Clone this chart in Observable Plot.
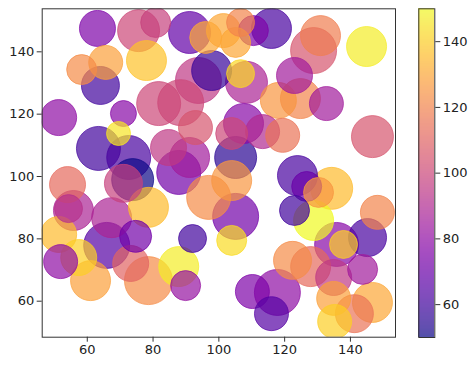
<!DOCTYPE html>
<html>
<head>
<meta charset="utf-8">
<script src="https://cdn.jsdelivr.net/npm/d3@7"></script>
<script src="https://cdn.jsdelivr.net/npm/@observablehq/plot@0.6"></script>
<style>
  html, body { margin: 0; padding: 0; background: #fff; }
  #wrap { display: flex; width: 474px; height: 368px; }
  svg text { font-family: "DejaVu Sans", sans-serif; }
</style>
</head>
<body>
<div id="wrap"></div>
<script>
// Scatter values
const xs = [69.5, 63.1, 58.3, 65.6, 64.0, 51.3, 71.0, 75.6, 80.8, 78.0, 81.7, 91.1, 101.4, 106.6, 110.5, 116.0,
  97.8, 93.8, 106.6, 108.4, 88.4, 107.5, 118.1, 130.9, 128.8, 144.9, 123.0, 124.8, 132.7, 146.7, 113.3, 119.4,
  123.9, 126.7, 134.3, 130.3, 123.0, 128.8, 148.2, 105.1, 103.9, 92.0, 87.8, 89.9, 78.6, 110.2, 117.8, 116.0,
  122.4, 127.9, 135.8, 137.9, 145.2, 134.9, 143.7, 146.7, 134.9, 141.2, 135.2, 54.0, 55.8, 54.3, 67.4, 78.6,
  51.3, 65.9, 74.7, 51.9, 57.4, 61.0, 73.2, 63.4, 72.6, 71.0, 73.8, 92.9, 84.7, 87.8, 91.1, 105.1, 103.9,
  103.9, 96.9, 96.0, 105.1];
const ys = [113.8, 147.5, 134.3, 136.6, 129.2, 118.9, 120.2, 146.8, 149.4, 137.2, 123.4, 146.2, 146.8, 149.4, 146.8, 147.5,
  134.0, 130.8, 133.0, 130.2, 123.7, 117.0, 124.4, 145.2, 140.4, 141.7, 132.4, 125.0, 123.4, 112.8, 114.4, 113.2,
  100.3, 96.8, 96.2, 94.9, 89.1, 85.9, 88.5, 87.2, 79.5, 80.1, 71.1, 65.0, 66.6, 63.1, 62.8, 56.0,
  73.1, 71.1, 78.2, 78.2, 80.4, 67.6, 70.2, 59.6, 60.9, 56.0, 53.5, 97.4, 89.1, 89.7, 86.8, 90.1,
  81.4, 77.9, 80.8, 72.7, 74.0, 66.6, 72.1, 109.0, 106.1, 97.8, 99.0, 115.7, 109.3, 101.3, 106.1, 106.1, 113.8,
  98.7, 93.3, 144.6, 143.0];
const sizes = [144, 324, 225, 289, 361, 324, 169, 441, 225, 400, 484, 441, 289, 196, 225, 400,
  400, 529, 196, 441, 529, 400, 324, 400, 529, 400, 324, 400, 289, 441, 289, 289,
  400, 225, 441, 225, 225, 400, 289, 529, 225, 196, 400, 225, 576, 289, 529, 289,
  361, 400, 484, 196, 361, 324, 225, 400, 289, 361, 289, 324, 400, 196, 400, 400,
  324, 529, 256, 289, 324, 400, 324, 484, 484, 361, 441, 289, 324, 484, 400, 441, 256,
  400, 484, 256, 225];
const values = [145, 75, 122, 128, 60, 80, 78, 100, 98, 137, 100, 68, 130, 120, 75, 62,
  58, 95, 142, 88, 100, 78, 125, 118, 105, 147, 85, 120, 85, 105, 90, 115,
  62, 70, 135, 125, 60, 150, 120, 72, 143, 60, 147, 82, 122, 75, 80, 65,
  122, 112, 78, 140, 62, 95, 85, 130, 128, 115, 140, 112, 88, 92, 88, 135,
  135, 65, 72, 80, 140, 128, 110, 60, 62, 98, 50, 105, 95, 72, 85, 55, 100,
  125, 122, 130, 130];
const xTicks = [60, 80, 100, 120, 140];
const yTicks = [60, 80, 100, 120, 140];
const cTicks = [60, 80, 100, 120, 140];

const points = xs.map((x, i) => ({x, y: ys[i], s: sizes[i], c: values[i]}));
const cDomain = d3.extent(values);

const main = Plot.plot({
  width: 405, height: 368,
  marginLeft: 41.7, marginRight: 10, marginTop: 8.3, marginBottom: 31.3,
  style: {fontSize: "13px", fontFamily: "DejaVu Sans, sans-serif", color: "#222", background: "#fff"},
  x: {domain: [46.3, 153.7]},
  y: {domain: [48.45, 153.8]},
  color: {type: "linear", scheme: "plasma", domain: cDomain},
  r: {type: "sqrt", domain: [0, 625], range: [0, 25]},
  marks: [
    Plot.dot(points, {x: "x", y: "y", r: "s", fill: "c", stroke: "c", fillOpacity: 0.7, strokeOpacity: 0.7, strokeWidth: 1, clip: true}),
    Plot.frame({stroke: "#333", strokeWidth: 1}),
    Plot.axisX({ticks: xTicks, tickSize: 5, tickPadding: 3, label: null, stroke: "#333"}),
    Plot.axisY({ticks: yTicks, tickSize: 5, tickPadding: 3, label: null, stroke: "#333"})
  ]
});

const step = 0.25;
const cbVals = d3.range(cDomain[0], cDomain[1], step);
const bar = Plot.plot({
  width: 69, height: 368,
  marginLeft: 13.3, marginRight: 39.7, marginTop: 8.3, marginBottom: 31,
  style: {fontSize: "13px", fontFamily: "DejaVu Sans, sans-serif", color: "#222", background: "#fff"},
  x: {domain: [0, 1], axis: null},
  y: {domain: cDomain},
  color: {type: "linear", scheme: "plasma", domain: cDomain},
  marks: [
    Plot.rect(cbVals, {x1: () => 0, x2: () => 1, y1: d => d, y2: d => Math.min(d + step * 1.5, cDomain[1]), fill: d => d, shapeRendering: "crispEdges"}),
    Plot.frame({stroke: "#333", strokeWidth: 1}),
    Plot.axisY({anchor: "right", ticks: cTicks, tickSize: 5, tickPadding: 3, label: null, stroke: "#333"})
  ]
});
d3.select(bar).selectAll('g[aria-label="rect"]').attr("opacity", 0.7);

document.getElementById("wrap").append(main, bar);
</script>
</body>
</html>
